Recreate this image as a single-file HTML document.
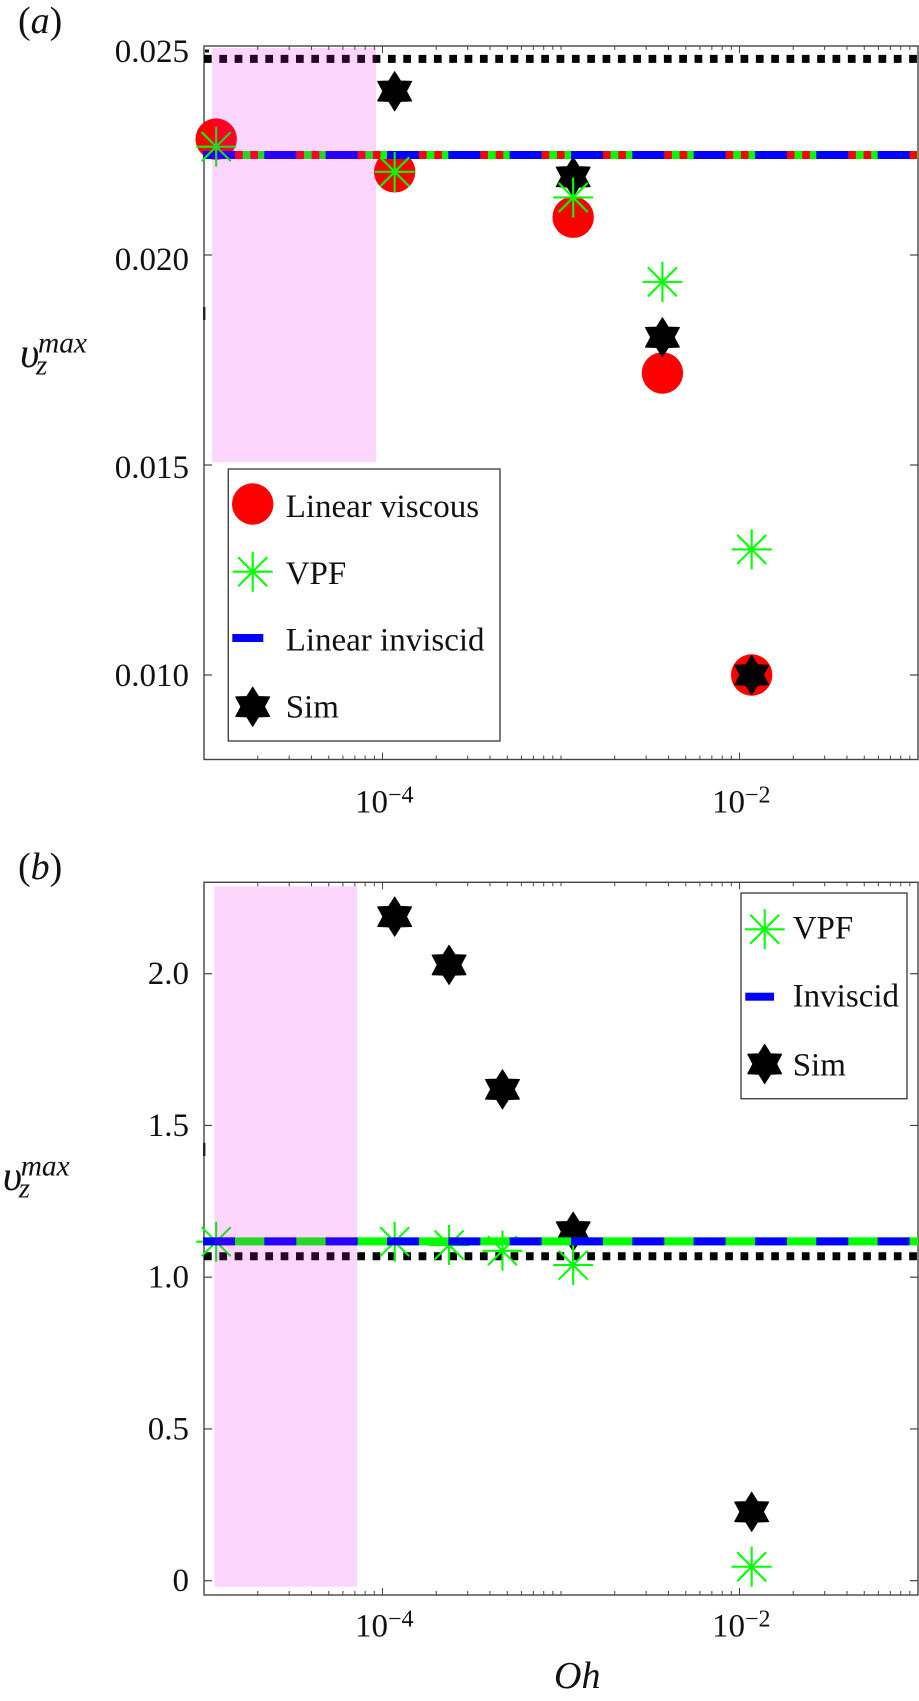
<!DOCTYPE html>
<html lang="en">
<head>
<meta charset="utf-8">
<title>Maximum velocity versus Oh</title>
<style>
html,body{margin:0;padding:0;background:#fff;width:919px;height:1701px;overflow:hidden}
svg{display:block;position:absolute;left:0;top:0}
text{font-family:"Liberation Serif",serif;fill:#111}
</style>
</head>
<body>
<svg id="figure" xmlns="http://www.w3.org/2000/svg" width="919" height="1701" viewBox="0 0 919 1701"></svg>
<script>
// Panel (a) data
const panelAOh = [1.17e-5, 1.17e-4, 1.17e-3, 3.7e-3, 1.17e-2];
const panelAViscous = [0.02276, 0.02198, 0.0209, 0.01719, 0.0100];
const panelAVPF = [0.02258, 0.02198, 0.02137, 0.01936, 0.01299];
const panelASim = [null, 0.0239, 0.02186, 0.01804, 0.0100];
const panelAInviscidLevel = [0.02238];
const panelADottedLevel = [0.02467];
const panelAShadeOh = [1.109e-5, 9.2e-5];
const panelAShadeV = [0.01507, 0.02493];
const panelAYTicks = [0.010, 0.015, 0.020];
const panelAYLabels = ['0.010', '0.015', '0.020', '0.025'];
const panelAYLabelValues = [0.010, 0.015, 0.020, 0.025];

// Panel (b) data
const panelBOh = [1.17e-5, 1.17e-4, 2.36e-4, 4.7e-4, 1.17e-3, 1.17e-2];
const panelBVPF = [1.117, 1.117, 1.106, 1.087, 1.04, 0.046];
const panelBSim = [null, 2.188, 2.029, 1.619, 1.15, 0.227];
const panelBInviscidLevel = [1.118];
const panelBDottedLevel = [1.069];
const panelBShadeOh = [1.142e-5, 7.2e-5];
const panelBShadeV = [-0.02, 2.288];
const panelBYTicks = [0, 0.5, 1.0, 1.5, 2.0];
const panelBYLabels = ['0', '0.5', '1.0', '1.5', '2.0'];

// Shared x axis
const xDecades = [-5, -4, -3, -2];
const xMajorExponents = [-4, -2];
const xMinMaxExponent = [-5, -1];

const NS = 'http://www.w3.org/2000/svg';
const root = document.getElementById('figure');

function mk(tag, attrs, name, parent) {
  const el = document.createElementNS(NS, tag);
  for (const k in attrs) el.setAttribute(k, attrs[k]);
  
  
  (parent || root).appendChild(el);
  return el;
}

const AXIS_L = 204, AXIS_R = 918;
function xScale(oh) {
  const t = (Math.log10(oh) - xMinMaxExponent[0]) / (xMinMaxExponent[1] - xMinMaxExponent[0]);
  return AXIS_L + t * (AXIS_R - AXIS_L);
}
function yA(v) { return 675 - (v - 0.010) * 42000; }
function yB(v) { return 1580.7 - v * 303.5; }
function labelYA(v) { return 686 - (v - 0.010) * 41600; }
function labelYB(v) { return yB(v) + 10.5; }

function circleMark(g, cx, cy, name) {
  mk('circle', {cx: cx, cy: cy, r: 20.7, fill: '#ff0000'}, name, g);
}
function starMark(g, cx, cy, name) {
  const pts = [];
  for (let i = 0; i < 12; i++) {
    const r = i % 2 === 0 ? 19.6 : 11.8;
    const a = -Math.PI / 2 + i * Math.PI / 6;
    pts.push((cx + r * Math.cos(a)).toFixed(2) + ',' + (cy + r * Math.sin(a)).toFixed(2));
  }
  mk('polygon', {points: pts.join(' '), fill: '#000', stroke: '#000', 'stroke-width': 1, 'stroke-linejoin': 'round'}, name, g);
}
function asteriskMark(g, cx, cy, name) {
  const h = 20, d = 14.5;
  const s = 'M' + (cx - h) + ' ' + cy + 'H' + (cx + h) +
    'M' + cx + ' ' + (cy - h) + 'V' + (cy + h) +
    'M' + (cx - d) + ' ' + (cy - d) + 'L' + (cx + d) + ' ' + (cy + d) +
    'M' + (cx - d) + ' ' + (cy + d) + 'L' + (cx + d) + ' ' + (cy - d);
  mk('path', {d: s, fill: 'none', stroke: '#00ff00', 'stroke-width': 2.1}, name, g);
}
function hLine(g, y, x1, x2, color, dash, name) {
  const attrs = {x1: x1, x2: x2, y1: y, y2: y, stroke: color, 'stroke-width': 8};
  if (dash) attrs['stroke-dasharray'] = dash;
  mk('line', attrs, name, g);
}
function drawAxes(g, top, bottom, yScale, yTicks) {
  const strokeC = '#444';
  mk('rect', {x: AXIS_L, y: top, width: AXIS_R - AXIS_L, height: bottom - top, fill: 'none', stroke: strokeC, 'stroke-width': 1.4}, 'plot-frame', g);
  xDecades.forEach(function (e) {
    for (let k = 1; k <= 9; k++) {
      if (e === -5 && k === 1) continue;
      const x = xScale(k * Math.pow(10, e));
      const major = k === 1 && xMajorExponents.indexOf(e) >= 0;
      const len = major ? 7 : 4;
      mk('line', {x1: x, x2: x, y1: bottom, y2: bottom - len, stroke: strokeC, 'stroke-width': 1}, 'x-tick-bottom', g);
      mk('line', {x1: x, x2: x, y1: top, y2: top + len, stroke: strokeC, 'stroke-width': 1}, 'x-tick-top', g);
    }
  });
  yTicks.forEach(function (v) {
    const y = yScale(v);
    mk('line', {x1: AXIS_L, x2: AXIS_L + 8, y1: y, y2: y, stroke: strokeC, 'stroke-width': 1.2}, 'y-tick-left', g);
    mk('line', {x1: AXIS_R, x2: AXIS_R - 8, y1: y, y2: y, stroke: strokeC, 'stroke-width': 1.2}, 'y-tick-right', g);
  });
}
function xLabels(g, baseline) {
  xMajorExponents.forEach(function (e) {
    const x = xScale(Math.pow(10, e));
    const t = mk('text', {x: x - 27.5, y: baseline, 'font-size': 33}, 'x-tick-label', g);
    t.appendChild(document.createTextNode('10'));
    const s = document.createElementNS(NS, 'tspan');
    s.setAttribute('dy', -10);
    s.setAttribute('font-size', 24);
    s.textContent = '\u2212' + Math.abs(e);
    t.appendChild(s);
  });
}
function yLabels(g, labels, values, scale) {
  labels.forEach(function (txt, i) {
    const t = mk('text', {x: 189, y: scale(values[i]), 'font-size': 33, 'text-anchor': 'end'}, 'y-tick-label', g);
    t.textContent = txt;
  });
}
function panelLetter(g, letter, x, y) {
  const t = mk('text', {x: x, y: y, 'font-size': 38}, 'panel-label', g);
  t.appendChild(document.createTextNode('('));
  const s = document.createElementNS(NS, 'tspan');
  s.setAttribute('font-style', 'italic');
  s.textContent = letter;
  t.appendChild(s);
  t.appendChild(document.createTextNode(')'));
}
function yAxisTitle(g, x, base) {
  const wrap = mk('g', {}, 'y-axis-title', g);
  mk('text', {x: x, y: base, 'font-size': 42, 'font-style': 'italic'}, 'y-title-symbol', wrap).textContent = '\u03C5';
  mk('text', {x: x + 18, y: base - 14.3, 'font-size': 29.4, 'font-style': 'italic'}, 'y-title-superscript', wrap).textContent = 'max';
  mk('text', {x: x + 16, y: base + 7.5, 'font-size': 29, 'font-style': 'italic'}, 'y-title-subscript', wrap).textContent = 'z';
}
function legendBox(g, x1, y1, x2, y2) {
  mk('rect', {x: x1, y: y1, width: x2 - x1, height: y2 - y1, fill: '#fff', stroke: '#444', 'stroke-width': 1.4}, 'legend-box', g);
}
function legendText(g, x, y, txt) {
  mk('text', {x: x, y: y, 'font-size': 33}, 'legend-label', g).textContent = txt;
}
const SHADE = 'rgba(245,0,245,0.16)';

// ---------- Panel (a) ----------
const gA = mk('g', {}, 'panel-a');
drawAxes(gA, 46, 759.5, yA, panelAYTicks);
mk('rect', {x: 205, y: 49.5, width: 4, height: 3, fill: '#111'}, 'axis-speck', gA);
mk('rect', {x: 203, y: 307, width: 2.4, height: 13, fill: '#222'}, 'axis-thick-segment', gA);

panelAOh.forEach(function (oh, i) {
  circleMark(gA, xScale(oh), yA(panelAViscous[i]), 'linear-viscous-point');
});
panelAOh.forEach(function (oh, i) {
  if (panelASim[i] !== null) starMark(gA, xScale(oh), yA(panelASim[i]), 'sim-point');
});
hLine(gA, yA(panelADottedLevel[0]), 204, 918, '#000', '7.7 7.63', 'dotted-reference-line');
hLine(gA, yA(panelAInviscidLevel[0]), 203, 918, '#00ff00', null, 'vpf-line');
hLine(gA, yA(panelAInviscidLevel[0]), 204.33, 918, '#ff0000', '7.7 7.63', 'linear-viscous-line');
hLine(gA, yA(panelAInviscidLevel[0]), 203, 918, '#0000ff', '32 29.33', 'linear-inviscid-line');
panelAOh.forEach(function (oh, i) {
  asteriskMark(gA, xScale(oh), yA(panelAVPF[i]), 'vpf-point');
});
mk('rect', {
  x: xScale(panelAShadeOh[0]), y: yA(panelAShadeV[1]),
  width: xScale(panelAShadeOh[1]) - xScale(panelAShadeOh[0]),
  height: yA(panelAShadeV[0]) - yA(panelAShadeV[1]), fill: SHADE
}, 'shaded-region', gA);

const legA = mk('g', {}, 'legend-a', gA);
legendBox(legA, 228.3, 469, 500, 741);
circleMark(legA, 252.7, 504, 'legend-marker-linear-viscous');
asteriskMark(legA, 252.7, 571.7, 'legend-marker-vpf');
mk('rect', {x: 232.3, y: 634, width: 31, height: 8, fill: '#0000ff'}, 'legend-marker-linear-inviscid', legA);
starMark(legA, 252.7, 706.7, 'legend-marker-sim');
legendText(legA, 285.7, 517, 'Linear viscous');
legendText(legA, 285.7, 584, 'VPF');
legendText(legA, 285.7, 650.7, 'Linear inviscid');
legendText(legA, 285.7, 717.3, 'Sim');

yLabels(gA, panelAYLabels, panelAYLabelValues, labelYA);
xLabels(gA, 812.7);
panelLetter(gA, 'a', 18, 33);
yAxisTitle(gA, 20, 367);

// ---------- Panel (b) ----------
const gB = mk('g', {}, 'panel-b');
drawAxes(gB, 882.3, 1595, yB, panelBYTicks);
mk('rect', {x: 203, y: 1143, width: 2.4, height: 13, fill: '#222'}, 'axis-thick-segment', gB);

panelBOh.forEach(function (oh, i) {
  if (panelBSim[i] !== null) starMark(gB, xScale(oh), yB(panelBSim[i]), 'sim-point');
});
hLine(gB, yB(panelBDottedLevel[0]), 204, 918, '#000', '7.7 7.63', 'dotted-reference-line');
panelBOh.forEach(function (oh, i) {
  asteriskMark(gB, xScale(oh), yB(panelBVPF[i]), 'vpf-point');
});
hLine(gB, yB(panelBInviscidLevel[0]), 203, 918, '#00ff00', null, 'vpf-line');
hLine(gB, yB(panelBInviscidLevel[0]), 203, 918, '#0000ff', '32 29.33', 'inviscid-line');
mk('rect', {
  x: xScale(panelBShadeOh[0]), y: yB(panelBShadeV[1]),
  width: xScale(panelBShadeOh[1]) - xScale(panelBShadeOh[0]),
  height: yB(panelBShadeV[0]) - yB(panelBShadeV[1]), fill: SHADE
}, 'shaded-region', gB);

const legB = mk('g', {}, 'legend-b', gB);
legendBox(legB, 741, 893, 907, 1098.7);
asteriskMark(legB, 764.7, 929.3, 'legend-marker-vpf');
mk('rect', {x: 745.3, y: 992.7, width: 28.7, height: 8, fill: '#0000ff'}, 'legend-marker-inviscid', legB);
starMark(legB, 764.7, 1064, 'legend-marker-sim');
legendText(legB, 792.7, 938.3, 'VPF');
legendText(legB, 792.7, 1006.7, 'Inviscid');
legendText(legB, 792.7, 1075.3, 'Sim');

yLabels(gB, panelBYLabels, panelBYTicks, labelYB);
xLabels(gB, 1636.7);
panelLetter(gB, 'b', 18, 879);
yAxisTitle(gB, 2.7, 1190);
const ohTitle = mk('text', {x: 554, y: 1688, 'font-size': 38, 'font-style': 'italic'}, 'x-axis-title', gB);
ohTitle.textContent = 'Oh';
</script>
</body>
</html>
